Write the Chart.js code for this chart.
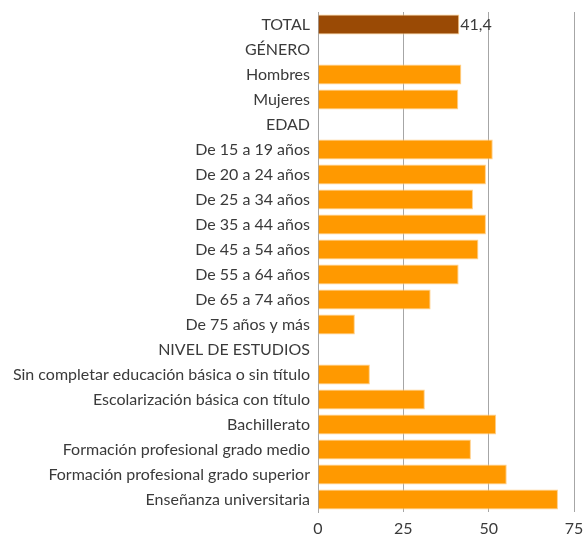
<!DOCTYPE html>
<html>
<head>
<meta charset="utf-8">
<script src="https://cdn.jsdelivr.net/npm/chart.js@4"></script>
<style>
  html, body { margin: 0; padding: 0; background: #fff; }
  #wrap { width: 585px; height: 537px; }
</style>
</head>
<body>
<div id="wrap"><canvas id="chart"></canvas></div>
<script>
var categories = [
  'TOTAL', 'GÉNERO', 'Hombres', 'Mujeres', 'EDAD',
  'De 15 a 19 años', 'De 20 a 24 años', 'De 25 a 34 años', 'De 35 a 44 años',
  'De 45 a 54 años', 'De 55 a 64 años', 'De 65 a 74 años', 'De 75 años y más',
  'NIVEL DE ESTUDIOS',
  'Sin completar educación básica o sin título', 'Escolarización básica con título',
  'Bachillerato', 'Formación profesional grado medio',
  'Formación profesional grado superior', 'Enseñanza universitaria'
];
var values = [
  41.4, null, 42.0, 41.1, null,
  51.2, 49.2, 45.4, 49.2,
  47.0, 41.2, 33.0, 10.8,
  null,
  15.2, 31.3, 52.2, 44.8,
  55.3, 70.3
];
var xTicks = [0, 25, 50, 75];
var totalLabel = '41,4';

var colors = values.map(function (v, i) { return i === 0 ? '#9a4a05' : '#ff9900'; });

var totalLabelPlugin = {
  id: 'totalLabel',
  afterDatasetsDraw: function (chart) {
    var bar = chart.getDatasetMeta(0).data[0];
    var ctx = chart.ctx;
    ctx.save();
    ctx.font = '16px Lato';
    ctx.fillStyle = '#3a3a3a';
    ctx.textBaseline = 'middle';
    ctx.fillText(totalLabel, bar.x + 1, bar.y);
    ctx.restore();
  }
};

new Chart(document.getElementById('chart'), {
  type: 'bar',
  data: {
    labels: categories,
    datasets: [{
      data: values,
      backgroundColor: colors,
      borderColor: '#ffd08a',
      borderWidth: { top: 1, bottom: 1, right: 1, left: 0 },
      borderSkipped: false,
      barPercentage: 0.8,
      categoryPercentage: 1
    }]
  },
  plugins: [totalLabelPlugin],
  options: {
    indexAxis: 'y',
    responsive: true,
    maintainAspectRatio: false,
    animation: false,
    layout: { padding: { top: 12, right: 11, bottom: 0, left: 0 } },
    plugins: { legend: { display: false }, tooltip: { enabled: false } },
    scales: {
      x: {
        min: 0, max: 75,
        afterBuildTicks: function (axis) {
          axis.ticks = xTicks.map(function (v) { return { value: v }; });
        },
        afterFit: function (axis) { axis.height = 25; axis.paddingLeft = 0; axis.paddingRight = 0; },
        grid: { color: '#a6a6a6', lineWidth: 1, drawTicks: false, tickLength: 0 },
        border: { display: false },
        ticks: { color: '#3a3a3a', font: { family: 'Lato', size: 16 }, padding: 7 }
      },
      y: {
        afterFit: function (axis) { axis.width = 318; axis.paddingTop = 0; axis.paddingBottom = 0; },
        grid: { display: false, drawTicks: false, tickLength: 0 },
        border: { display: true, color: '#a6a6a6' },
        ticks: { color: '#3a3a3a', font: { family: 'Lato', size: 16 }, padding: 8, autoSkip: false }
      }
    }
  }
});
</script>
</body>
</html>
